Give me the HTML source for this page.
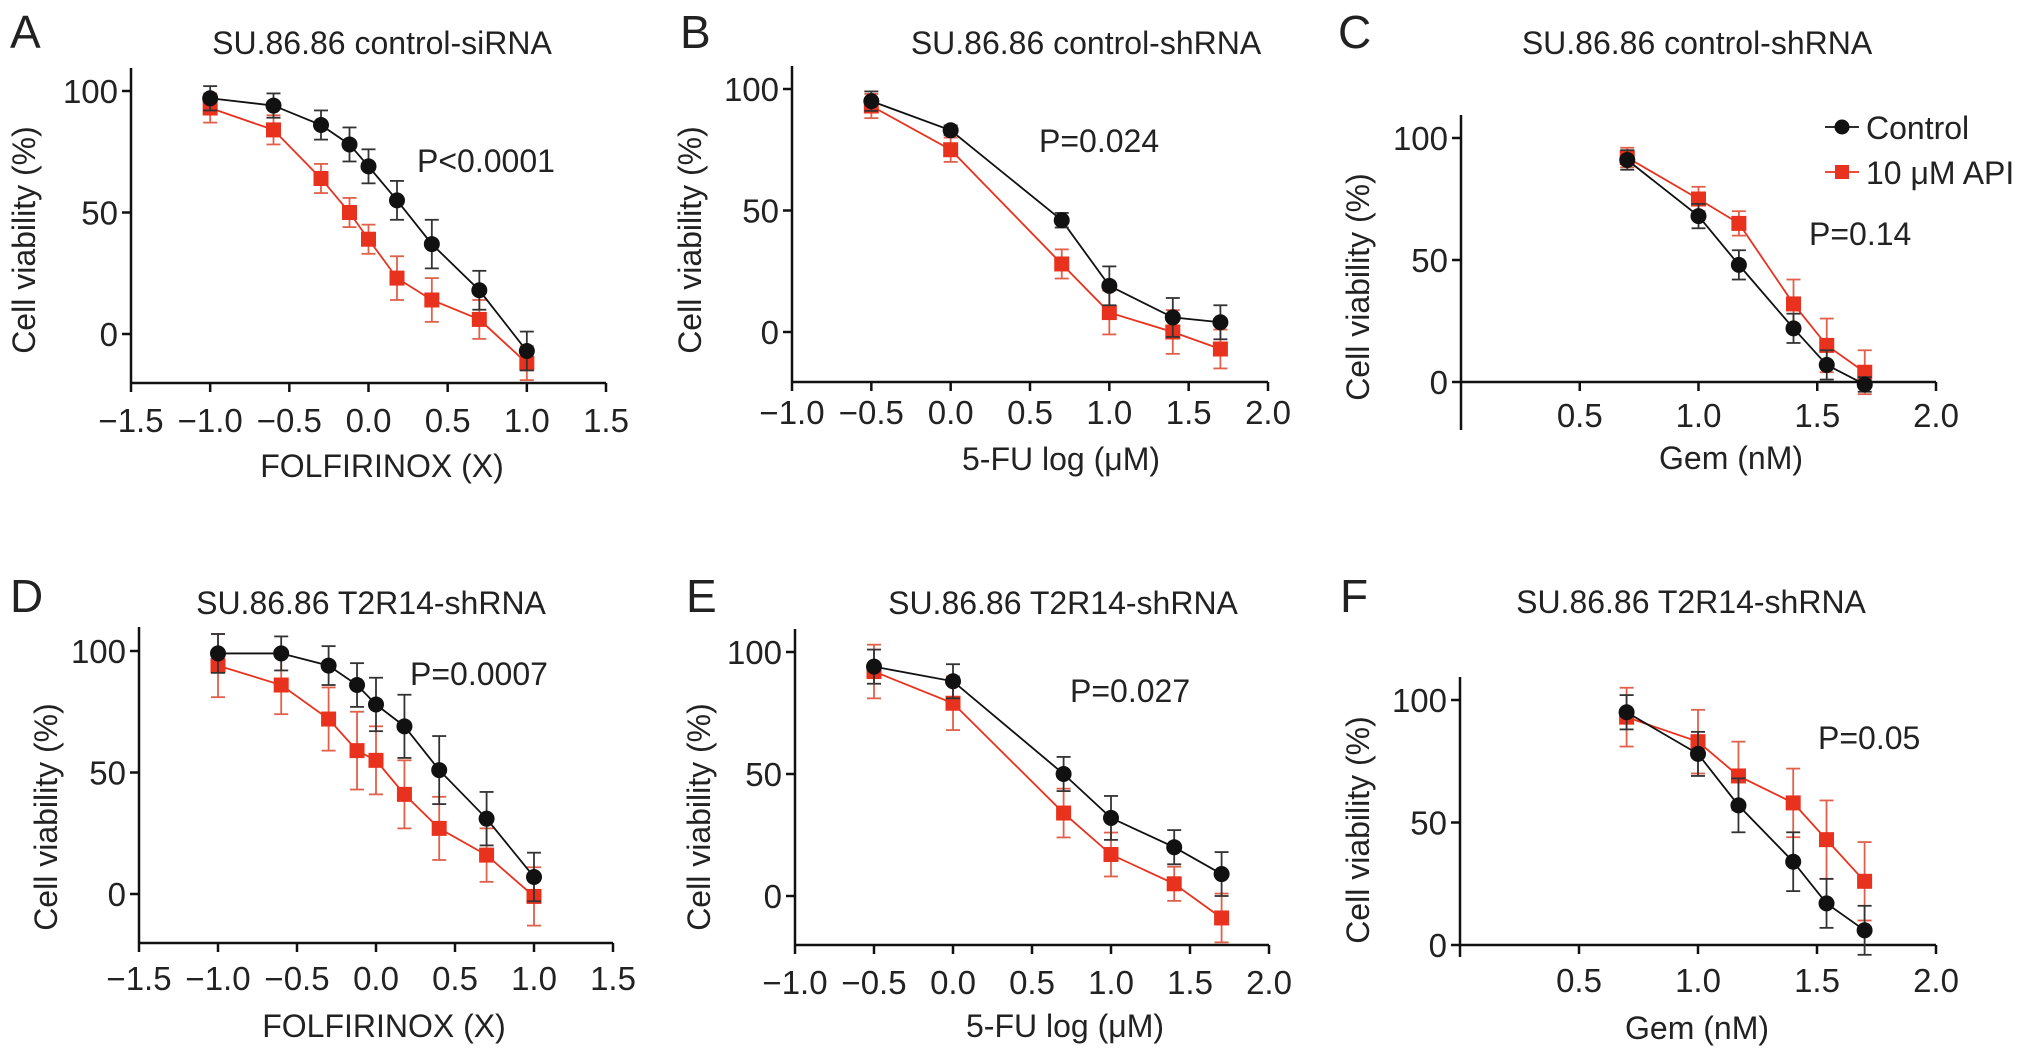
<!DOCTYPE html>
<html><head><meta charset="utf-8"><style>
html,body{margin:0;padding:0;background:#fff}
svg{display:block}
text{font-family:"Liberation Sans",Arial,sans-serif;fill:#222}
</style></head><body>
<svg id="fig" width="2032" height="1058" viewBox="0 0 2032 1058" xmlns="http://www.w3.org/2000/svg"></svg>
<script>
// ---- data ----
const xFolf = [-1, -0.6, -0.3, -0.12, 0, 0.18, 0.4, 0.7, 1.0];
const xFU = [-0.5, 0, 0.7, 1.0, 1.4, 1.7];
const xGem = [0.7, 1.0, 1.17, 1.4, 1.54, 1.7];

const aCtrl = [97, 94, 86, 78, 69, 55, 37, 18, -7];
const aCtrlErr = [5, 5, 6, 7, 7, 8, 10, 8, 8];
const aApi = [93, 84, 64, 50, 39, 23, 14, 6, -12];
const aApiErr = [6, 6, 6, 6, 6, 9, 9, 8, 7];

const bCtrl = [95, 83, 46, 19, 6, 4];
const bCtrlErr = [4, 2, 3, 8, 8, 7];
const bApi = [93, 75, 28, 8, 0, -7];
const bApiErr = [5, 5, 6, 9, 9, 8];

const cCtrl = [91, 68, 48, 22, 7, -1];
const cCtrlErr = [4, 5, 6, 6, 6, 3];
const cApi = [92, 75, 65, 32, 15, 4];
const cApiErr = [4, 5, 5, 10, 11, 9];

const dCtrl = [99, 99, 94, 86, 78, 69, 51, 31, 7];
const dCtrlErr = [8, 7, 8, 9, 11, 13, 14, 11, 10];
const dApi = [94, 86, 72, 59, 55, 41, 27, 16, -1];
const dApiErr = [13, 12, 13, 16, 14, 14, 13, 11, 12];

const eCtrl = [94, 88, 50, 32, 20, 9];
const eCtrlErr = [7, 7, 7, 9, 7, 9];
const eApi = [92, 79, 34, 17, 5, -9];
const eApiErr = [11, 11, 10, 9, 7, 10];

const fCtrl = [95, 78, 57, 34, 17, 6];
const fCtrlErr = [7, 9, 11, 12, 10, 10];
const fApi = [93, 83, 69, 58, 43, 26];
const fApiErr = [12, 13, 14, 14, 16, 16];

const yTicks = [0, 50, 100];
const xTicksFolf = [-1.5, -1.0, -0.5, 0.0, 0.5, 1.0, 1.5];
const xTicksFU = [-1.0, -0.5, 0.0, 0.5, 1.0, 1.5, 2.0];
const xTicksGem = [0.5, 1.0, 1.5, 2.0];

const NS = "http://www.w3.org/2000/svg";
const svg = document.getElementById('fig');
function el(tag, attrs, parent, txt) {
  const e = document.createElementNS(NS, tag);
  for (const k in attrs) e.setAttribute(k, attrs[k]);
  if (txt !== undefined) e.textContent = txt;
  (parent || svg).appendChild(e);
  return e;
}
function fmt(v){ return (v<0?'\u2212':'') + Math.abs(v).toFixed(1); }

const RED = '#e8321e', BLK = '#111';
const FT = 33, FL = 32;

function panel(p) {
  const g = el('g', {});
  
  
  const sx = v => p.x0 + (v - p.xmin) / (p.xmax - p.xmin) * (p.x1 - p.x0);
  const sy = v => p.y0 + (v / 100) * (p.y100 - p.y0);
  const L = el('text', {x: p.lx, y: p.ly, 'font-size': 46}, g, p.letter);
  
  
  const T = el('text', {x: p.tx, y: p.ty + 2, 'font-size': FL, 'text-anchor': 'middle'}, g, p.title);
  
  
  const ya = el('line', {x1: p.x0, x2: p.x0, y1: p.ytop, y2: p.ybot, stroke: BLK, 'stroke-width': 2.5}, g);
  
  
  const xa = el('line', {x1: p.x0, x2: p.x1, y1: p.xaxisY, y2: p.xaxisY, stroke: BLK, 'stroke-width': 2.5}, g);
  
  
  for (const t of yTicks) {
    el('line', {x1: p.x0 - 9, x2: p.x0, y1: sy(t), y2: sy(t), stroke: BLK, 'stroke-width': 2.5}, g);
    const tl = el('text', {x: p.x0 - 13, y: sy(t) + 12, 'font-size': FT, 'text-anchor': 'end'}, g, String(t));
    
    
  }
  for (const t of p.xticks) {
    el('line', {x1: sx(t), x2: sx(t), y1: p.xaxisY, y2: p.xaxisY + 9, stroke: BLK, 'stroke-width': 2.5}, g);
    const tl = el('text', {x: sx(t), y: p.tickY + 12, 'font-size': FT, 'text-anchor': 'middle'}, g, fmt(t));
    
    
  }
  const xl = el('text', {x: p.xlx, y: p.xly + 12, 'font-size': FL, 'text-anchor': 'middle'}, g, p.xlabel);
  
  
  const yl = el('text', {x: 0, y: 0, 'font-size': FL, 'text-anchor': 'middle', transform: `translate(${p.ylx + 11},${p.yly}) rotate(-90)`}, g, 'Cell viability (%)');
  
  
  const pv = el('text', {x: p.px, y: p.py + 12, 'font-size': FL}, g, p.pval);
  
  

  const series = [
    {name: 'api', vals: p.api, err: p.apiErr, col: RED, sq: true},
    {name: 'control', vals: p.ctrl, err: p.ctrlErr, col: BLK, sq: false}
  ];
  for (const s of series) {
    const sg = el('g', {}, g);
    
    
    const pts = p.xs.map((x, i) => sx(x) + ',' + sy(s.vals[i])).join(' ');
    el('polyline', {points: pts, fill: 'none', stroke: s.col, 'stroke-width': 1.8}, sg);
    p.xs.forEach((x, i) => {
      const cx = sx(x), cy = sy(s.vals[i]);
      const hi = sy(s.vals[i] + s.err[i]), lo = sy(s.vals[i] - s.err[i]);
      const ec = s.sq ? '#e0604a' : '#333';
      el('line', {x1: cx, x2: cx, y1: hi, y2: lo, stroke: ec, 'stroke-width': 1.8}, sg);
      el('line', {x1: cx - 7, x2: cx + 7, y1: hi, y2: hi, stroke: ec, 'stroke-width': 1.8}, sg);
      el('line', {x1: cx - 7, x2: cx + 7, y1: lo, y2: lo, stroke: ec, 'stroke-width': 1.8}, sg);
      let m;
      if (s.sq) m = el('rect', {x: cx - 7.5, y: cy - 7.5, width: 15, height: 15, fill: s.col}, sg);
      else m = el('circle', {cx: cx, cy: cy, r: 8, fill: s.col}, sg);
      
      
    });
  }
  return g;
}

panel({letter:'A', lx:10, ly:48, title:'SU.86.86 control-siRNA', tx:382, ty:52,
  x0:131, x1:606, xmin:-1.5, xmax:1.5, y0:334, y100:91, ytop:68, ybot:383, xaxisY:383,
  xticks:xTicksFolf, tickY:420, xlabel:'FOLFIRINOX (X)', xlx:382, xly:465, ylx:24, yly:240,
  pval:'P<0.0001', px:417, py:160, xs:xFolf, ctrl:aCtrl, ctrlErr:aCtrlErr, api:aApi, apiErr:aApiErr});
panel({letter:'B', lx:680, ly:48, title:'SU.86.86 control-shRNA', tx:1086, ty:52,
  x0:792, x1:1268, xmin:-1.0, xmax:2.0, y0:332, y100:89, ytop:66, ybot:382, xaxisY:382,
  xticks:xTicksFU, tickY:412, xlabel:'5-FU log (\u03bcM)', xlx:1061, xly:458, ylx:690, yly:240,
  pval:'P=0.024', px:1039, py:140, xs:xFU, ctrl:bCtrl, ctrlErr:bCtrlErr, api:bApi, apiErr:bApiErr});
panel({letter:'C', lx:1338, ly:48, title:'SU.86.86 control-shRNA', tx:1697, ty:52,
  x0:1461, x1:1936, xmin:0, xmax:2.0, y0:382, y100:138, ytop:115, ybot:430, xaxisY:382,
  xticks:xTicksGem, tickY:415, xlabel:'Gem (nM)', xlx:1731, xly:457, ylx:1358, yly:287,
  pval:'P=0.14', px:1809, py:233, xs:xGem, ctrl:cCtrl, ctrlErr:cCtrlErr, api:cApi, apiErr:cApiErr});
panel({letter:'D', lx:10, ly:612, title:'SU.86.86 T2R14-shRNA', tx:371, ty:612,
  x0:139, x1:613, xmin:-1.5, xmax:1.5, y0:894, y100:651, ytop:627, ybot:943, xaxisY:943,
  xticks:xTicksFolf, tickY:978, xlabel:'FOLFIRINOX (X)', xlx:384, xly:1025, ylx:46, yly:817,
  pval:'P=0.0007', px:410, py:673, xs:xFolf, ctrl:dCtrl, ctrlErr:dCtrlErr, api:dApi, apiErr:dApiErr});
panel({letter:'E', lx:686, ly:612, title:'SU.86.86 T2R14-shRNA', tx:1063, ty:612,
  x0:795, x1:1269, xmin:-1.0, xmax:2.0, y0:896, y100:652, ytop:629, ybot:945, xaxisY:945,
  xticks:xTicksFU, tickY:982, xlabel:'5-FU log (\u03bcM)', xlx:1065, xly:1025, ylx:699, yly:817,
  pval:'P=0.027', px:1070, py:690, xs:xFU, ctrl:eCtrl, ctrlErr:eCtrlErr, api:eApi, apiErr:eApiErr});
panel({letter:'F', lx:1340, ly:612, title:'SU.86.86 T2R14-shRNA', tx:1691, ty:611,
  x0:1460, x1:1936, xmin:0, xmax:2.0, y0:945, y100:700, ytop:677, ybot:957, xaxisY:945,
  xticks:xTicksGem, tickY:980, xlabel:'Gem (nM)', xlx:1697, xly:1027, ylx:1358, yly:830,
  pval:'P=0.05', px:1818, py:737, xs:xGem, ctrl:fCtrl, ctrlErr:fCtrlErr, api:fApi, apiErr:fApiErr});

// legend (panel C)
const lg = el('g', {});


const le1 = el('g', {}, lg);


el('line', {x1:1825, x2:1859, y1:127, y2:127, stroke:BLK, 'stroke-width':1.8}, le1);
el('circle', {cx:1842, cy:127, r:7.5, fill:BLK}, le1);
el('text', {x:1866, y:139, 'font-size':FL}, le1, 'Control');
const le2 = el('g', {}, lg);


el('line', {x1:1825, x2:1859, y1:172, y2:172, stroke:RED, 'stroke-width':1.8}, le2);
el('rect', {x:1835, y:165, width:14, height:14, fill:RED}, le2);
el('text', {x:1866, y:184, 'font-size':FL}, le2, '10 \u03bcM API');
</script>
</body></html>
